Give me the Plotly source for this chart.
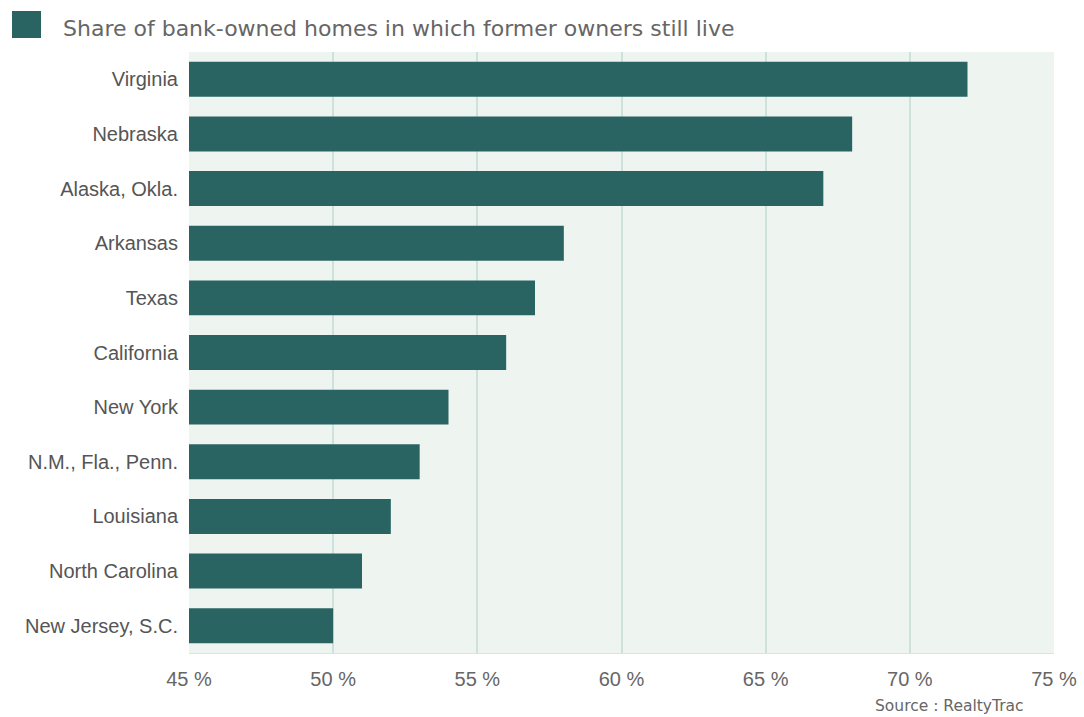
import plotly.graph_objects as go

states = ["Virginia", "Nebraska", "Alaska, Okla.", "Arkansas", "Texas", "California",
          "New York", "N.M., Fla., Penn.", "Louisiana", "North Carolina", "New Jersey, S.C."]
shares = [72, 68, 67, 58, 57, 56, 54, 53, 52, 51, 50]
axis_start = 45
tick_vals = [45, 50, 55, 60, 65, 70, 75]
tick_text = ["45 %", "50 %", "55 %", "60 %", "65 %", "70 %", "75 %"]
legend_label = "Share of bank-owned homes in which former owners still live"
source = "Source : RealtyTrac"

bar_color = "#2a6462"

fig = go.Figure(go.Bar(
    x=[v - axis_start for v in shares], y=states, orientation="h", base=axis_start,
    marker=dict(color=bar_color, line=dict(width=0)),
    showlegend=False,
))

fig.update_layout(
    width=1084, height=717,
    margin=dict(l=189, r=30, t=52, b=64),
    paper_bgcolor="white",
    plot_bgcolor="#eef5f1",
    bargap=0.36,
    xaxis=dict(range=[45, 75], tickvals=tick_vals, ticktext=tick_text,
               showgrid=True, gridcolor="#cde2dd", gridwidth=1.5,
               zeroline=False, showline=True, linecolor="#d5e6e2",
               tickfont=dict(family="Liberation Sans, Arial", size=20, color="#666666"),
               ticks="", ticklabelstandoff=8, fixedrange=True, automargin=False),
    yaxis=dict(autorange="reversed", showgrid=False, zeroline=False,
               tickfont=dict(family="Liberation Sans, Arial", size=20, color="#555555"),
               ticks="", ticklabelstandoff=10, fixedrange=True, automargin=False),
    shapes=[dict(type="rect", xref="paper", yref="paper",
                 x0=-177/865, x1=-148/865,
                 y0=1 + (52-38)/601, y1=1 + (52-11)/601,
                 fillcolor=bar_color, line=dict(width=0))],
    annotations=[
        dict(text=legend_label, xref="paper", yref="paper",
             x=-128/865, y=1 + (52-28)/601, xanchor="left", yanchor="middle",
             showarrow=False,
             font=dict(family="DejaVu Sans, Verdana", size=22, color="#666666")),
        dict(text=source, xref="paper", yref="paper",
             x=(1026-189)/865, y=-(706-653)/601, xanchor="right", yanchor="middle",
             showarrow=False,
             font=dict(family="DejaVu Sans, Verdana", size=15.5, color="#666666")),
    ],
)
fig.write_html("out.html")
